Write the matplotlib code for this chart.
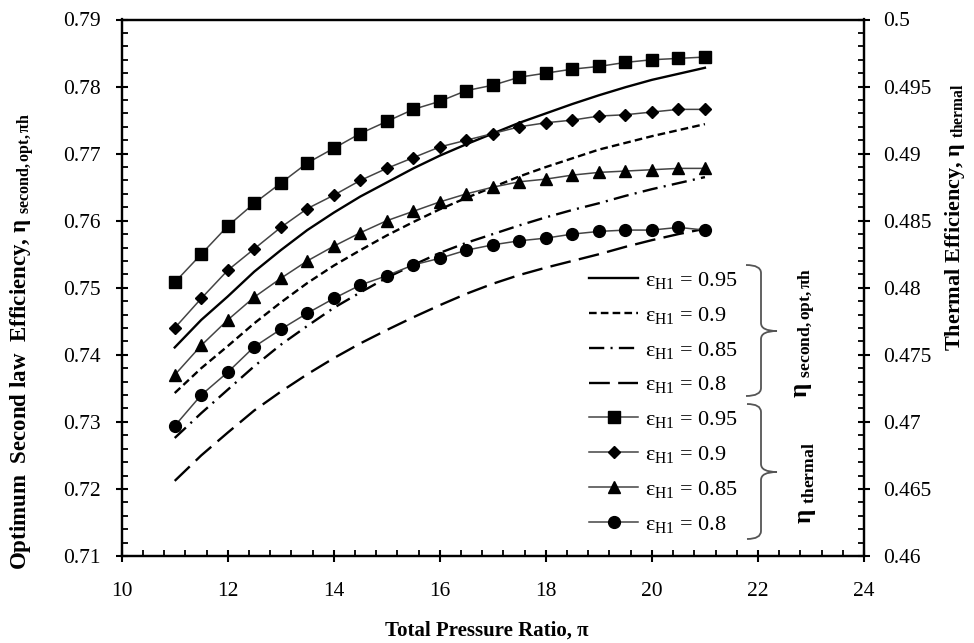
import numpy as np
import matplotlib
matplotlib.use("Agg")
import matplotlib.pyplot as plt
from matplotlib.path import Path
from matplotlib.patches import PathPatch
from matplotlib.ticker import MultipleLocator, FuncFormatter

plt.rcParams['font.family'] = ['Liberation Serif', 'DejaVu Serif']
plt.rcParams['mathtext.fontset'] = 'custom'
plt.rcParams['mathtext.rm'] = 'Liberation Serif'
plt.rcParams['mathtext.bf'] = 'Liberation Serif:bold'
plt.rcParams['mathtext.it'] = 'Liberation Serif:italic'
plt.rcParams['lines.scale_dashes'] = False

# pressure ratio
pi_ratio = [11, 11.5, 12, 12.5, 13, 13.5, 14, 14.5, 15, 15.5, 16,
            16.5, 17, 17.5, 18, 18.5, 19, 19.5, 20, 20.5, 21]

# optimum second law efficiency (left axis)
eta2_095 = [0.7411, 0.7452, 0.7487, 0.7524, 0.7556, 0.7586, 0.7612, 0.7636, 0.7657, 0.7678, 0.7697,
            0.7714, 0.7730, 0.7746, 0.7760, 0.7774, 0.7787, 0.7799, 0.7810, 0.7819, 0.7828]
eta2_090 = [0.7343, 0.7380, 0.7413, 0.7447, 0.7478, 0.7507, 0.7533, 0.7556, 0.7578, 0.7598, 0.7617,
            0.7634, 0.7650, 0.7666, 0.7680, 0.7693, 0.7706, 0.7716, 0.7726, 0.7735, 0.7744]
eta2_085 = [0.7276, 0.7313, 0.7348, 0.7383, 0.7415, 0.7443, 0.7470, 0.7493, 0.7515, 0.7534, 0.7552,
            0.7567, 0.7580, 0.7593, 0.7605, 0.7616, 0.7626, 0.7637, 0.7647, 0.7656, 0.7665]
eta2_080 = [0.7212, 0.7250, 0.7284, 0.7317, 0.7345, 0.7371, 0.7395, 0.7417, 0.7437, 0.7456, 0.7474,
            0.7491, 0.7506, 0.7519, 0.7530, 0.7540, 0.7550, 0.7561, 0.7571, 0.7580, 0.7588]

# thermal efficiency (right axis)
etath_095 = [0.4804, 0.4825, 0.4846, 0.4863, 0.4878, 0.4893, 0.4904, 0.4915, 0.4924, 0.4933, 0.4939,
             0.4947, 0.4951, 0.4957, 0.4960, 0.4963, 0.4965, 0.4968, 0.4970, 0.4971, 0.4972]
etath_090 = [0.4770, 0.4792, 0.4813, 0.4829, 0.4845, 0.4859, 0.4869, 0.4880, 0.4889, 0.4897, 0.4905,
             0.4910, 0.4915, 0.4920, 0.4923, 0.4925, 0.4928, 0.4929, 0.4931, 0.4933, 0.4933]
etath_085 = [0.4735, 0.4757, 0.4776, 0.4793, 0.4807, 0.4820, 0.4831, 0.4841, 0.4850, 0.4857, 0.4864,
             0.4870, 0.4875, 0.4879, 0.4881, 0.4884, 0.4886, 0.4887, 0.4888, 0.4889, 0.4889]
etath_080 = [0.4697, 0.4720, 0.4737, 0.4756, 0.4769, 0.4781, 0.4792, 0.4802, 0.4809, 0.4817, 0.4822,
             0.4828, 0.4832, 0.4835, 0.4837, 0.4840, 0.4842, 0.4843, 0.4843, 0.4845, 0.4843]

eps_labels = ["0.95", "0.9", "0.85", "0.8"]

W, H = 974, 643
fig = plt.figure(figsize=(W / 100, H / 100), dpi=100)
ax = fig.add_axes([121.7 / W, 1 - 556 / H, (864 - 121.7) / W, (556 - 19.5) / H])
ax2 = ax.twinx()


def px(x, y):
    return x / W, 1 - y / H


line_styles = ['-', (0, (5.5, 3)), (0, (11, 4.5, 1.5, 4.5)), (0, (15, 6))]
handles = []
for vals, ls, lab in zip([eta2_095, eta2_090, eta2_085, eta2_080], line_styles, eps_labels):
    h, = ax.plot(pi_ratio, vals, color='black', lw=1.7, linestyle=ls,
                 label="ε$_{\\mathrm{H1}}$ = " + lab)
    handles.append(h)

markers = [('s', 9), ('D', 6), ('^', 8), ('o', 8.5)]
for vals, (m, ms), lab in zip([etath_095, etath_090, etath_085, etath_080], markers, eps_labels):
    h, = ax2.plot(pi_ratio, vals, color='#444444', lw=1.1, marker=m, ms=ms,
                  mfc='black', mec='black', label="ε$_{\\mathrm{H1}}$ = " + lab)
    handles.append(h)

ax.set_xlim(10, 24)
ax.set_ylim(0.71, 0.79)
ax2.set_ylim(0.46, 0.5)
ax.xaxis.set_major_locator(MultipleLocator(2))
ax.xaxis.set_minor_locator(MultipleLocator(0.4))
ax.yaxis.set_major_locator(MultipleLocator(0.01))
ax.yaxis.set_minor_locator(MultipleLocator(0.002))
ax2.yaxis.set_major_locator(MultipleLocator(0.005))
ax2.yaxis.set_minor_locator(MultipleLocator(0.001))
ax.yaxis.set_major_formatter(FuncFormatter(lambda v, p: f"{v:.2f}"))
ax2.yaxis.set_major_formatter(FuncFormatter(lambda v, p: f"{round(v, 4):g}"))

for a in (ax, ax2):
    for s in a.spines.values():
        s.set_linewidth(1.6)
    a.tick_params(which='major', direction='inout', length=8, width=1.5,
                  labelsize=15.5, colors='black')
    a.tick_params(which='minor', direction='in', length=4, width=1.3)
ax.tick_params(axis='x', pad=15)
ax.tick_params(axis='y', pad=11)
ax2.tick_params(axis='y', pad=10)

# axis titles
fig.text(*px(487, 631), "Total Pressure Ratio, π", ha='center', va='center',
         fontsize=15, fontweight='bold')
fig.text(*px(22, 342),
         "Optimum  Second law  Efficiency, η $_{\\mathbf{second,opt,πh}}$",
         rotation=90, ha='center', va='center', fontsize=16.5, fontweight='bold')
fig.text(*px(955, 217), "Thermal Efficiency, η $_{\\mathbf{thermal}}$",
         rotation=90, ha='center', va='center', fontsize=16, fontweight='bold')

leg = ax.legend(handles=handles, loc='upper left', bbox_to_anchor=px(578, 259),
                bbox_transform=fig.transFigure, frameon=False, fontsize=16,
                handlelength=2.2, handletextpad=0.3, labelspacing=0.62, borderpad=0)


def brace(x0, x1, xp, ytop, ymid, ybot, r=8):
    verts = [px(x0, ytop), px(x1, ytop), px(x1, ytop + r),
             px(x1, ymid - r), px(x1, ymid), px(xp, ymid),
             px(x1, ymid), px(x1, ymid + r),
             px(x1, ybot - r), px(x1, ybot), px(x0, ybot)]
    codes = [Path.MOVETO, Path.CURVE3, Path.CURVE3,
             Path.LINETO, Path.CURVE3, Path.CURVE3,
             Path.CURVE3, Path.CURVE3,
             Path.LINETO, Path.CURVE3, Path.CURVE3]
    fig.add_artist(PathPatch(Path(verts, codes), fc='none', ec='#555555', lw=1.3,
                             transform=fig.transFigure))


brace(746, 761, 777, 265, 331, 396)
brace(747, 761, 777, 404, 472, 539)

fig.text(*px(806, 333), "η $_{\\mathbf{second,opt,πh}}$", rotation=90,
         ha='center', va='center', fontsize=18, fontweight='bold')
fig.text(*px(806, 483), "η $_{\\mathbf{thermal}}$", rotation=90,
         ha='center', va='center', fontsize=18, fontweight='bold')

fig.savefig("out.png", dpi=100)
